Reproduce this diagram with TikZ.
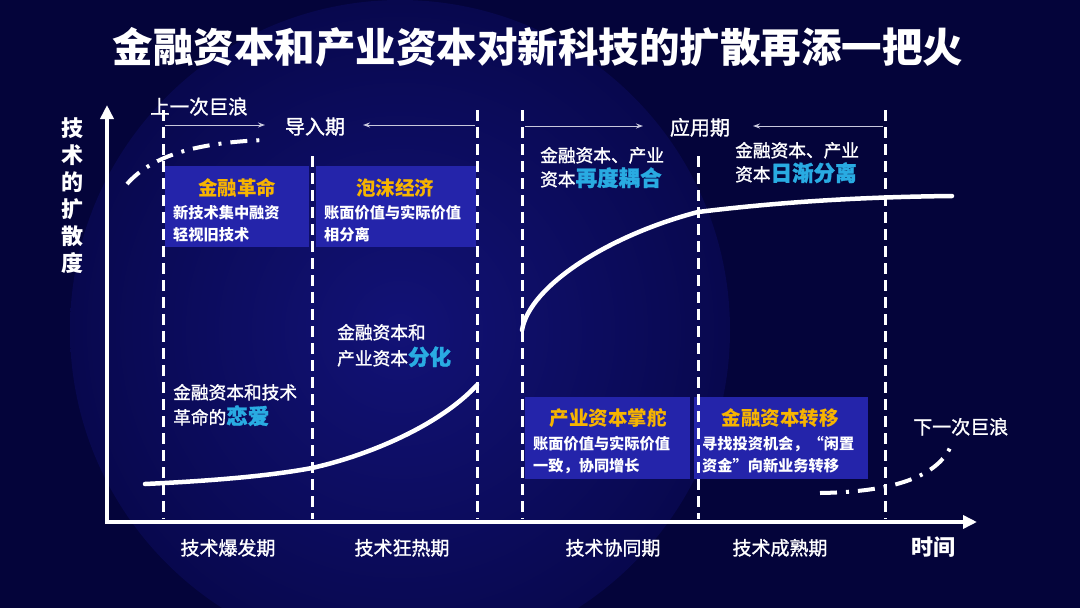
\documentclass[tikz,border=0pt]{standalone}
\usepackage{fontspec}
\setmainfont{Noto Sans CJK SC}
\newfontfamily\medfont{Noto Sans CJK SC}[FakeBold=1.3]
\usetikzlibrary{arrows.meta}
\definecolor{bgdark}{HTML}{04043A}
\definecolor{bgglowin}{HTML}{121276}
\definecolor{bgglowout}{HTML}{08084E}
\definecolor{boxblue}{HTML}{2424AA}
\definecolor{gold}{HTML}{F7B400}
\definecolor{cyanhl}{HTML}{29ABE2}
\definecolor{arrowgray}{HTML}{C8C8DC}
\newcommand{\fsz}[1]{\fontsize{#1}{#1}\selectfont}
\newcommand{\hlt}[1]{{\color{cyanhl}\bfseries\fontsize{21.5}{21.5}\selectfont #1}}
\begin{document}
\begin{tikzpicture}[x=1pt,y=-1pt,
  lbl/.style={inner sep=0pt,text=white},
  axis/.style={white,line width=3.5pt,line join=miter,{Triangle[length=14pt,width=13pt]}-{Triangle[length=14pt,width=13pt]}},
  period/.style={white,line width=3pt,dash pattern=on 11pt off 6pt},
  phasearrow/.style={arrowgray,line width=1pt,-{Stealth[length=7pt,width=5pt]}},
  curve/.style={white,line width=4.5pt,line cap=round},
  wave/.style={white,line width=4pt,dash pattern=on 17pt off 9pt on 3pt off 9pt},
  stagebox/.style={fill=boxblue},
  boxtitle/.style={lbl,text=gold,font=\bfseries\fsz{19.5},anchor=base},
  boxbody/.style={lbl,font=\bfseries\fsz{15.2},anchor=base west},
  note/.style={lbl,font=\medfont\fsz{17.7},anchor=base west},
  stage/.style={lbl,font=\medfont\fsz{19},anchor=base}]
\useasboundingbox (0,0) rectangle (1080,608);
% background
\fill[bgdark] (0,0) rectangle (1080,608);
\begin{scope}
  \clip (0,0) rectangle (1080,608);
  \shade[inner color=bgglowin,outer color=bgglowout] (400,330) circle[radius=330pt];
\end{scope}
% title
\node[lbl,font=\bfseries\fsz{40.5},anchor=base] (title) at (538,62) {金融资本和产业资本对新科技的扩散再添一把火};
% boxes
\fill[stagebox] (165,166) rectangle (309,247);
\fill[stagebox] (316,166) rectangle (476,247);
\fill[stagebox] (525,397) rectangle (690,479);
\fill[stagebox] (694,397) rectangle (868,479);
% period separators
\foreach \x/\t in {163/110,312/156,477/110,522/110,698/156,885/110}
  \draw[period] (\x,\t) -- (\x,519);
% axes
\coordinate (O) at (107,522);
\coordinate (ytip) at (107,105);
\coordinate (xtip) at (977,522);
\draw[axis] (ytip) -- (O) -- (xtip);
\node[lbl,font=\bfseries\fontsize{22}{27}\selectfont,align=center] (ylab) at (72,196) {技\\术\\的\\扩\\散\\度};
\node[lbl,font=\bfseries\fsz{22},anchor=base] (time) at (933,555) {时间};
% phase labels and arrows
\node[lbl,font=\medfont\fsz{19.5},anchor=base west] (lastwave) at (150,114) {上一次巨浪};
\node[lbl,font=\medfont\fsz{20},anchor=base] (intro) at (315,134) {导入期};
\node[lbl,font=\medfont\fsz{20},anchor=base] (apply) at (700,135) {应用期};
\coordinate (i1) at (165,125);
\coordinate (i1e) at (265,125);
\coordinate (i2) at (475,125);
\coordinate (i2e) at (363,125);
\coordinate (a1) at (525,126);
\coordinate (a1e) at (643,126);
\coordinate (a2) at (883,126);
\coordinate (a2e) at (753,126);
\draw[phasearrow] (i1) -- (i1e);
\draw[phasearrow] (i2) -- (i2e);
\draw[phasearrow] (a1) -- (a1e);
\draw[phasearrow] (a2) -- (a2e);
% box texts
\node[boxtitle] (b1t) at (237,195) {金融革命};
\node[boxbody] (b1a) at (173,218) {新技术集中融资};
\node[boxbody] (b1b) at (173,240) {轻视旧技术};
\node[boxtitle] (b2t) at (395,195) {泡沫经济};
\node[boxbody] (b2a) at (324,218) {账面价值与实际价值};
\node[boxbody] (b2b) at (324,240) {相分离};
\node[boxtitle] (b3t) at (608,425) {产业资本掌舵};
\node[boxbody] (b3a) at (533,449) {账面价值与实际价值};
\node[boxbody] (b3b) at (533,471) {一致，协同增长};
\node[boxtitle] (b4t) at (780,425) {金融资本转移};
\node[boxbody] (b4a) at (702,449) {寻找投资机会，“闲置};
\node[boxbody] (b4b) at (702,471) {资金”向新业务转移};
% notes
\node[note] (n1a) at (540,162) {金融资本、产业};
\node[note] (n1b) at (540,186) {资本\hlt{再度耦合}};
\node[note] (n2a) at (735,157) {金融资本、产业};
\node[note] (n2b) at (735,181) {资本\hlt{日渐分离}};
\node[note] (n3a) at (173,399) {金融资本和技术};
\node[note] (n3b) at (173,424) {革命的\hlt{恋爱}};
\node[note] (n4a) at (337,339) {金融资本和};
\node[note] (n4b) at (337,365) {产业资本\hlt{分化}};
\node[lbl,font=\medfont\fsz{19},anchor=base west] (nextwave) at (913,434) {下一次巨浪};
% stage labels
\node[stage] (s1) at (228,555) {技术爆发期};
\node[stage] (s2) at (402,555) {技术狂热期};
\node[stage] (s3) at (613,555) {技术协同期};
\node[stage] (s4) at (780,555) {技术成熟期};
% curves
\draw[curve] (145,484) .. controls (230,480) and (280,474) .. (312,468)
  .. controls (370,455) and (440,425) .. (477,385);
\draw[curve] (522,330) .. controls (530,285) and (610,235) .. (698,212)
  .. controls (780,202) and (860,197) .. (952,196);
\draw[wave] (127,184) .. controls (150,158) and (190,143) .. (264,140);
\draw[wave] (820,493) .. controls (890,492) and (935,478) .. (950,448);
\end{tikzpicture}
\end{document}
